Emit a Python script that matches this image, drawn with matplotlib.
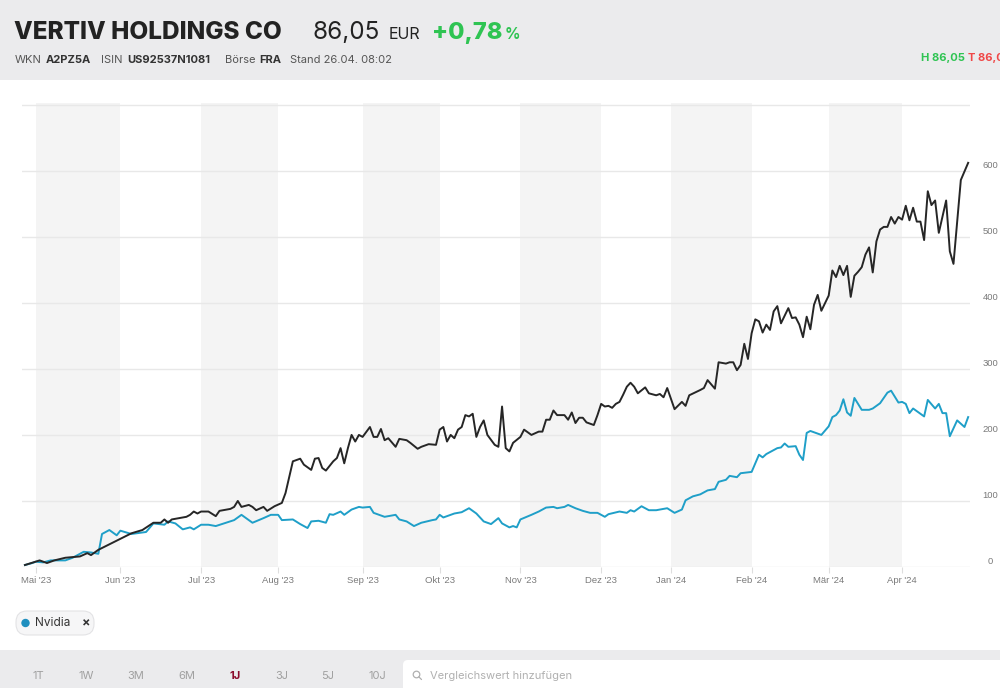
import matplotlib
matplotlib.use("Agg")
import matplotlib.pyplot as plt
import matplotlib.transforms as mtransforms
from matplotlib.patches import FancyBboxPatch, Rectangle, Circle
import numpy as np
import pandas as pd

# ---------------- data ----------------
HOLIDAYS = ["2023-12-25", "2023-12-26", "2024-01-01", "2024-03-29", "2024-04-01"]
START = "2023-04-26"
END = "2024-04-26"

month_labels = ["Mai '23", "Jun '23", "Jul '23", "Aug '23", "Sep '23", "Okt '23",
                "Nov '23", "Dez '23", "Jan '24", "Feb '24", "Mär '24", "Apr '24"]
y_ticks = [0, 100, 200, 300, 400, 500, 600]

vertiv_dates = [
    "2023-04-26", "2023-05-02", "2023-05-04", "2023-05-08", "2023-05-11", "2023-05-17", "2023-05-19",
    "2023-05-22", "2023-05-24", "2023-06-06", "2023-06-09", "2023-06-14", "2023-06-16", "2023-06-19",
    "2023-06-20", "2023-06-21", "2023-06-23", "2023-06-27", "2023-06-28", "2023-06-29", "2023-06-30",
    "2023-07-03", "2023-07-05", "2023-07-07", "2023-07-10", "2023-07-13", "2023-07-14", "2023-07-17",
    "2023-07-18", "2023-07-20", "2023-07-21", "2023-07-24", "2023-07-26", "2023-07-27", "2023-07-31",
    "2023-08-02", "2023-08-03", "2023-08-07", "2023-08-09", "2023-08-10", "2023-08-14", "2023-08-15",
    "2023-08-16", "2023-08-17", "2023-08-18", "2023-08-22", "2023-08-23", "2023-08-24", "2023-08-25",
    "2023-08-28", "2023-08-29", "2023-08-30", "2023-08-31", "2023-09-01", "2023-09-05", "2023-09-06",
    "2023-09-07", "2023-09-08", "2023-09-11", "2023-09-12", "2023-09-14", "2023-09-15", "2023-09-19",
    "2023-09-20", "2023-09-22", "2023-09-25", "2023-09-27", "2023-09-29", "2023-10-02", "2023-10-03",
    "2023-10-04", "2023-10-05", "2023-10-06", "2023-10-09", "2023-10-10", "2023-10-11", "2023-10-12",
    "2023-10-13", "2023-10-16", "2023-10-17", "2023-10-18", "2023-10-19", "2023-10-23", "2023-10-24",
    "2023-10-25", "2023-10-26", "2023-10-27", "2023-10-30", "2023-11-01", "2023-11-02", "2023-11-06",
    "2023-11-08", "2023-11-09", "2023-11-10", "2023-11-13", "2023-11-14", "2023-11-15", "2023-11-17",
    "2023-11-20", "2023-11-21", "2023-11-22", "2023-11-23", "2023-11-24", "2023-11-27", "2023-11-29",
    "2023-11-30", "2023-12-01", "2023-12-04", "2023-12-05", "2023-12-06", "2023-12-07", "2023-12-08",
    "2023-12-11", "2023-12-12", "2023-12-13", "2023-12-14", "2023-12-15", "2023-12-19", "2023-12-20",
    "2023-12-22", "2023-12-27", "2023-12-28", "2023-12-29", "2024-01-03", "2024-01-05", "2024-01-08",
    "2024-01-09", "2024-01-12", "2024-01-15", "2024-01-16", "2024-01-18", "2024-01-19", "2024-01-23",
    "2024-01-24", "2024-01-25", "2024-01-26", "2024-01-29", "2024-01-30", "2024-01-31", "2024-02-01",
    "2024-02-02", "2024-02-05", "2024-02-06", "2024-02-07", "2024-02-08", "2024-02-09", "2024-02-12",
    "2024-02-13", "2024-02-15", "2024-02-16", "2024-02-19", "2024-02-20", "2024-02-21", "2024-02-22",
    "2024-02-23", "2024-02-26", "2024-02-27", "2024-02-28", "2024-03-01", "2024-03-04", "2024-03-05",
    "2024-03-06", "2024-03-07", "2024-03-08", "2024-03-11", "2024-03-12", "2024-03-13", "2024-03-14",
    "2024-03-15", "2024-03-18", "2024-03-19", "2024-03-20", "2024-03-21", "2024-03-22", "2024-03-25",
    "2024-03-26", "2024-03-27", "2024-03-28", "2024-04-02", "2024-04-03", "2024-04-04", "2024-04-05",
    "2024-04-08", "2024-04-09", "2024-04-10", "2024-04-11", "2024-04-12", "2024-04-15", "2024-04-16",
    "2024-04-18", "2024-04-19", "2024-04-22", "2024-04-24", "2024-04-26",
]
vertiv_values = [
    3, 10, 6, 10, 14, 16, 21,
    18, 26, 51, 56, 67, 67, 72,
    67, 72, 74, 76, 79, 84, 81,
    84, 84, 77, 85, 88, 91, 100,
    91, 94, 91, 86, 91, 85, 92,
    97, 112, 160, 164, 155, 147, 164,
    165, 150, 146, 160, 165, 180, 157,
    180, 200, 190, 200, 197, 212, 197,
    197, 209, 192, 195, 182, 194, 192,
    188, 179, 182, 186, 185, 208, 212,
    190, 200, 195, 208, 212, 230, 228,
    232, 197, 212, 222, 200, 185, 182,
    243, 180, 175, 188, 197, 208, 200,
    205, 205, 223, 223, 237, 230, 230,
    223, 234, 218, 226, 226, 219, 215,
    230, 247, 243, 244, 241, 247, 250,
    261, 273, 279, 273, 263, 272, 263,
    260, 262, 257, 271, 239, 250, 244,
    260, 268, 271, 283, 270, 310, 308,
    310, 310, 298, 306, 338, 315, 354,
    375, 372, 355, 367, 359, 387, 395,
    369, 392, 377, 378, 367, 348, 379,
    360, 397, 412, 388, 411, 449, 439,
    456, 442, 456, 409, 441, 447, 454,
    473, 484, 446, 493, 511, 515, 515,
    530, 520, 530, 526, 547, 525, 544,
    523, 523, 495, 569, 548, 555, 506,
    555, 478, 459, 586, 612,
]

nvidia_dates = [
    "2023-04-26", "2023-04-28", "2023-05-01", "2023-05-03", "2023-05-05", "2023-05-08", "2023-05-11",
    "2023-05-15", "2023-05-18", "2023-05-22", "2023-05-24", "2023-05-25", "2023-05-29", "2023-05-31",
    "2023-06-01", "2023-06-06", "2023-06-12", "2023-06-14", "2023-06-19", "2023-06-20", "2023-06-22",
    "2023-06-26", "2023-06-28", "2023-06-29", "2023-07-03", "2023-07-05", "2023-07-07", "2023-07-14",
    "2023-07-18", "2023-07-21", "2023-07-26", "2023-07-28", "2023-08-01", "2023-08-02", "2023-08-07",
    "2023-08-09", "2023-08-11", "2023-08-14", "2023-08-16", "2023-08-18", "2023-08-21", "2023-08-22",
    "2023-08-24", "2023-08-25", "2023-08-29", "2023-08-31", "2023-09-01", "2023-09-05", "2023-09-06",
    "2023-09-11", "2023-09-14", "2023-09-15", "2023-09-19", "2023-09-21", "2023-09-25", "2023-09-28",
    "2023-09-29", "2023-10-02", "2023-10-03", "2023-10-06", "2023-10-10", "2023-10-12", "2023-10-16",
    "2023-10-18", "2023-10-20", "2023-10-24", "2023-10-25", "2023-10-27", "2023-10-30", "2023-10-31",
    "2023-11-01", "2023-11-06", "2023-11-08", "2023-11-10", "2023-11-14", "2023-11-15", "2023-11-17",
    "2023-11-20", "2023-11-22", "2023-11-24", "2023-11-28", "2023-11-30", "2023-12-04", "2023-12-05",
    "2023-12-08", "2023-12-12", "2023-12-13", "2023-12-14", "2023-12-18", "2023-12-20", "2023-12-22",
    "2023-12-29", "2024-01-03", "2024-01-05", "2024-01-08", "2024-01-10", "2024-01-12", "2024-01-16",
    "2024-01-18", "2024-01-19", "2024-01-23", "2024-01-24", "2024-01-26", "2024-01-29", "2024-02-01",
    "2024-02-05", "2024-02-06", "2024-02-07", "2024-02-12", "2024-02-13", "2024-02-14", "2024-02-15",
    "2024-02-19", "2024-02-20", "2024-02-21", "2024-02-22", "2024-02-23", "2024-02-28", "2024-03-01",
    "2024-03-04", "2024-03-05", "2024-03-06", "2024-03-07", "2024-03-08", "2024-03-11", "2024-03-12",
    "2024-03-14", "2024-03-18", "2024-03-19", "2024-03-21", "2024-03-25", "2024-03-26", "2024-03-28",
    "2024-04-02", "2024-04-03", "2024-04-04", "2024-04-05", "2024-04-10", "2024-04-11", "2024-04-15",
    "2024-04-16", "2024-04-17", "2024-04-18", "2024-04-19", "2024-04-22", "2024-04-23", "2024-04-25",
    "2024-04-26",
]
nvidia_values = [
    3, 6, 8, 7, 10, 10, 10,
    14, 23, 22, 20, 50, 56, 48,
    55, 50, 53, 66, 64, 69, 66,
    57, 60, 57, 64, 64, 62, 71,
    79, 67, 74, 79, 79, 71, 72,
    65, 59, 69, 70, 67, 80, 79,
    84, 79, 87, 91, 90, 91, 82,
    76, 79, 72, 69, 62, 67, 71,
    72, 79, 75, 81, 83, 89, 81,
    69, 65, 74, 66, 60, 62, 60,
    72, 79, 84, 90, 91, 89, 91,
    94, 89, 85, 82, 82, 76, 80,
    84, 82, 86, 84, 92, 86, 86,
    89, 82, 87, 101, 107, 110, 116,
    118, 129, 132, 138, 136, 142, 144,
    170, 166, 171, 180, 181, 187, 182,
    183, 170, 162, 203, 206, 200, 213,
    227, 230, 237, 254, 234, 229, 256,
    238, 238, 240, 248, 264, 267, 249,
    250, 247, 233, 240, 228, 253, 240,
    247, 233, 233, 198, 210, 222, 212,
    227,
]

# ---------------- helpers ----------------
def tday(dates):
    d = np.array(dates, dtype="datetime64[D]")
    return np.busday_count(np.datetime64(START), d, holidays=HOLIDAYS)

month_firsts = pd.date_range("2023-05-01", "2024-04-01", freq="MS").values.astype("datetime64[D]")
month_starts = np.busday_offset(month_firsts, 0, roll="forward", holidays=HOLIDAYS)
tick_pos = tday(month_starts)
end_pos = tday([END])[0]

W, H = 1000, 688
fig = plt.figure(figsize=(W / 100, H / 100), dpi=100)
fig.patch.set_facecolor("white")

# background / overlay axes in pixel coordinates
bg = fig.add_axes([0, 0, 1, 1], zorder=0)
bg.set_xlim(0, W)
bg.set_ylim(H, 0)
bg.axis("off")

HEAD = "#ebebed"
bg.add_patch(Rectangle((0, 0), W, 80, facecolor=HEAD, edgecolor="none"))
bg.add_patch(Rectangle((0, 650), W, 38, facecolor=HEAD, edgecolor="none"))

FONT = "Inter"
DARK = "#222222"
GREEN = "#2fc453"
RED = "#f04848"
bg.text(14, 39, "VERTIV HOLDINGS CO", fontsize=17.5, fontweight="heavy", family=FONT,
        color=DARK, va="baseline", ha="left")
bg.text(312, 39, "86,05", fontsize=17.5, family=FONT, color=DARK, va="baseline", ha="left")
bg.text(389, 39, "EUR", fontsize=11.5, family=FONT, color=DARK, va="baseline", ha="left")
bg.text(432, 39, "+0,78", fontsize=17, fontweight="heavy", family=FONT, color=GREEN,
        va="baseline", ha="left")
bg.text(505, 39, "%", fontsize=11, fontweight="bold", family=FONT, color=GREEN,
        va="baseline", ha="left")

sub = [(14.5, "WKN", "normal"), (46, "A2PZ5A", "bold"), (101, "ISIN", "normal"),
       (127, "US92537N1081", "bold"), (224.5, "Börse", "normal"), (259, "FRA", "bold"),
       (290, "Stand 26.04. 08:02", "normal")]
for x, s, w in sub:
    bg.text(x, 63, s, fontsize=8, fontweight=w, family=FONT,
            color="#333333" if w == "bold" else "#555555", va="baseline", ha="left")
bg.text(921, 61, "H 86,05", fontsize=8, fontweight="bold", family=FONT, color=GREEN,
        va="baseline", ha="left")
bg.text(968, 61, "T 86,05", fontsize=8, fontweight="bold", family=FONT, color=RED,
        va="baseline", ha="left", clip_on=False)

# legend chip
bg.add_patch(FancyBboxPatch((16, 611), 78, 24, boxstyle="round,pad=0,rounding_size=11",
                            facecolor="#f6f6f7", edgecolor="#e3e3e5", lw=0.8))
bg.add_patch(Circle((25.5, 623), 4.2, facecolor="#1f8fbf", edgecolor="none"))
bg.text(35, 623.5, "Nvidia", fontsize=8.5, family=FONT, color="#333333", va="center", ha="left")
bg.text(86.5, 623, "×", fontsize=9, fontweight="bold", family=FONT, color="#333333",
        va="center", ha="center")

# bottom period buttons
periods = ["1T", "1W", "3M", "6M", "1J", "3J", "5J", "10J"]
period_x = [38, 86, 136, 187, 235, 282, 328, 377]
for p, x in zip(periods, period_x):
    active = p == "1J"
    bg.text(x, 676, p, fontsize=8, family=FONT, fontweight="bold" if active else "normal",
            color="#8a0b2b" if active else "#a0a0a0", va="center", ha="center")

bg.add_patch(FancyBboxPatch((403, 660), 620, 60, boxstyle="round,pad=0,rounding_size=5",
                            facecolor="white", edgecolor="none"))
bg.add_patch(Circle((416.5, 674.5), 3.3, facecolor="none", edgecolor="#b0b0b0", lw=0.9))
bg.plot([418.8, 421.5], [676.8, 679.5], color="#b0b0b0", lw=0.9, solid_capstyle="round")
bg.text(430, 676, "Vergleichswert hinzufügen", fontsize=8, family=FONT, color="#b0b0b0",
        va="center", ha="left")

# ---------------- chart ----------------
left, right, top, bottom = 22, 970, 103.4, 567
ax = fig.add_axes([left / W, 1 - bottom / H, (right - left) / W, (bottom - top) / H], zorder=1)
ax.set_facecolor("none")
ax.set_xlim(-0.8, 257.5)
ax.set_ylim(0, 702)

for i in range(0, len(tick_pos), 2):
    x0 = tick_pos[i]
    x1 = tick_pos[i + 1] if i + 1 < len(tick_pos) else end_pos
    ax.axvspan(x0, x1, facecolor="#f4f4f4", edgecolor="none", zorder=0)

ax.set_yticks(range(0, 701, 100))
ax.yaxis.grid(True, color="#e8e8e8", lw=1.0, zorder=1)
ax.tick_params(axis="y", length=0, labelleft=False, labelright=False)
for s in ax.spines.values():
    s.set_visible(False)

ax.set_xticks(tick_pos)
ax.set_xticklabels(month_labels, family="Liberation Sans", fontsize=6.8, color="#7a7a7a")
ax.tick_params(axis="x", length=4, color="#dedede", width=0.8, pad=2.5)

ylab_trans = mtransforms.offset_copy(ax.get_yaxis_transform(), fig=fig, x=0, y=5, units="dots")
for v in y_ticks:
    ax.text(1.0215, v, str(v), transform=ylab_trans, ha="center", va="center",
            family="Liberation Sans", fontsize=6.8, color="#7a7a7a", clip_on=False)

ax.plot(tday(nvidia_dates), nvidia_values, color="#1f9fc8", lw=1.4, zorder=3,
        solid_joinstyle="round")
ax.plot(tday(vertiv_dates), vertiv_values, color="#262626", lw=1.4, zorder=4,
        solid_joinstyle="round")

fig.savefig("out.png", dpi=100, facecolor="white")
